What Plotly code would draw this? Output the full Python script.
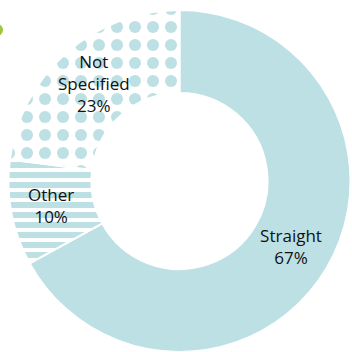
import plotly.graph_objects as go

labels = ["Straight", "Other", "Not Specified"]
display_names = ["Straight", "Other", "Not<br>Specified"]
values = [67, 10, 23]

blue = "#bde0e4"

fig = go.Figure()
fig.add_trace(go.Pie(
    labels=labels,
    values=values,
    text=display_names,
    texttemplate="%{text}<br>%{percent:.0%}",
    textinfo="text",
    textposition="inside",
    insidetextorientation="horizontal",
    hole=0.515,
    sort=False,
    direction="clockwise",
    rotation=0,
    marker=dict(
        colors=[blue, blue, blue],
        line=dict(color="white", width=2),
        pattern=dict(
            shape=["", "-", "."],
            fgcolor=[blue, blue, blue],
            bgcolor=["white", "white", "white"],
            size=[10, 10, 18],
            solidity=[0.3, 0.6, 0.35],
            fillmode="replace",
        ),
    ),
    textfont=dict(family="'Open Sans', 'DejaVu Sans', sans-serif", size=17, color="#111111"),
    domain=dict(x=[8.5 / 352, 350.5 / 352], y=[0, 342 / 352]),
    showlegend=False,
    hoverinfo="skip",
))

fig.add_shape(
    type="circle", xref="paper", yref="paper",
    x0=-9 / 352, x1=3 / 352, y0=(352 - 36) / 352, y1=(352 - 24) / 352,
    fillcolor="#9ec73d", line=dict(width=0),
)

fig.update_layout(
    width=352, height=352,
    margin=dict(l=0, r=0, t=0, b=0),
    paper_bgcolor="white",
    plot_bgcolor="white",
    showlegend=False,
    uniformtext=dict(minsize=17, mode="show"),
)

fig.write_html(
    "out.html",
    config={"displayModeBar": False},
    post_script="document.body.style.margin='0';document.body.style.overflow='hidden';",
)
